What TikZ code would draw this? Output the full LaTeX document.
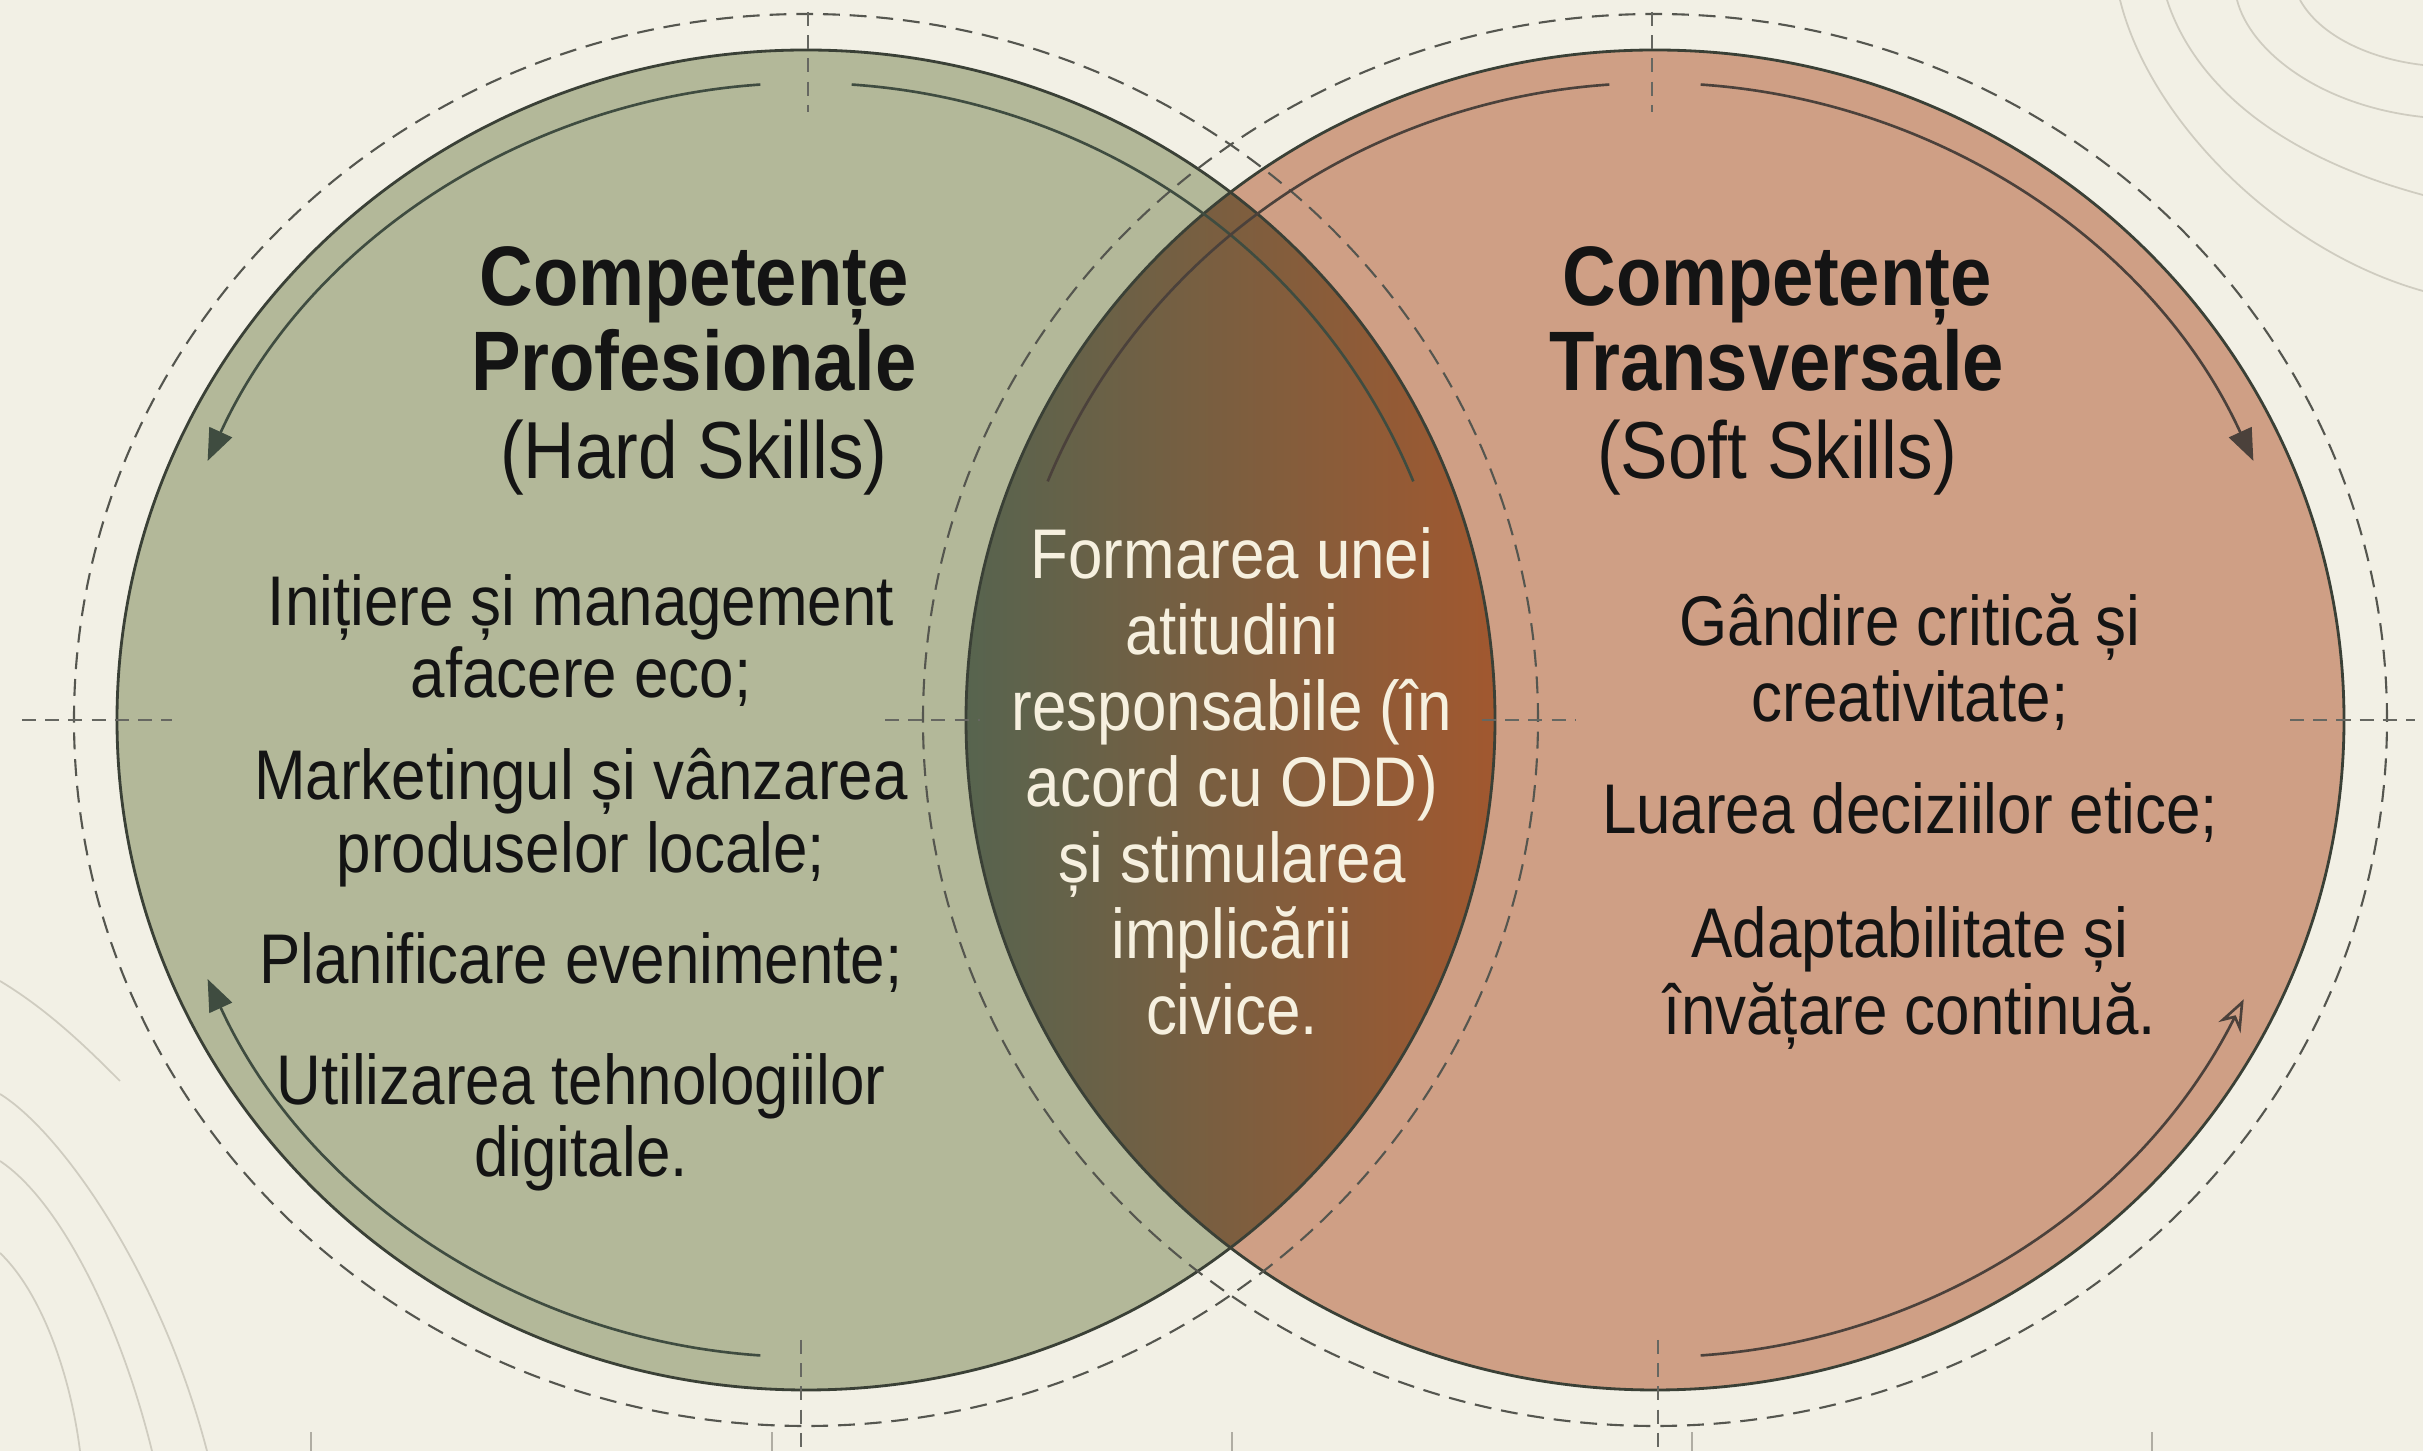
\documentclass[tikz,border=0pt]{standalone}
\usepackage{fontspec}
\setmainfont{Liberation Sans}[FakeStretch=0.88]
\usetikzlibrary{arrows.meta}
\definecolor{bg}{HTML}{F2F0E5}
\definecolor{sage}{HTML}{B3B899}
\definecolor{clay}{HTML}{CF9F85}
\definecolor{lensL}{HTML}{56644F}
\definecolor{lensM}{HTML}{7A5F43}
\definecolor{lensR}{HTML}{A2582F}
\definecolor{rim}{HTML}{3A4036}
\definecolor{ringc}{HTML}{55564F}
\definecolor{arcL}{HTML}{3F4C40}
\definecolor{arcR}{HTML}{4B413B}
\definecolor{topo}{HTML}{CFCCC0}
\definecolor{txt}{HTML}{141414}
\definecolor{lenstxt}{HTML}{F6F0DF}
\begin{document}
\begin{tikzpicture}[x=0.01cm,y=0.01cm,
  rimline/.style={draw=rim,line width=0.8pt},
  ringline/.style={draw=ringc,line width=0.6pt,dash pattern=on 4.8pt off 2.8pt},
  crossline/.style={draw=ringc!90,line width=0.6pt,dash pattern=on 4pt off 2.6pt},
  arcl/.style={draw=arcL,line width=0.75pt},
  arcr/.style={draw=arcR,line width=0.75pt},
  topoline/.style={draw=topo,line width=0.5pt},
  tick/.style={draw=topo!85!black,line width=0.5pt},
  ttl/.style={anchor=base,inner sep=0,text=txt,font=\fontsize{24}{24}\selectfont\bfseries},
  sub/.style={anchor=base,inner sep=0,text=txt,font=\fontsize{23}{24}\selectfont},
  item/.style={anchor=base,inner sep=0,text=txt,font=\fontsize{20}{21}\selectfont},
  ctr/.style={anchor=base,inner sep=0,text=lenstxt,font=\fontsize{20}{21}\selectfont}]
\useasboundingbox (0,0) rectangle (2423,1451);
\fill[bg] (0,0) rectangle (2423,1451);
% topographic decoration
\draw[topoline] (2120,1451) .. controls (2150,1330) and (2280,1200) .. (2423,1160);
\draw[topoline] (2167,1451) .. controls (2190,1380) and (2260,1300) .. (2423,1256);
\draw[topoline] (2237,1451) .. controls (2250,1400) and (2320,1345) .. (2423,1334);
\draw[topoline] (2300,1451) .. controls (2320,1415) and (2370,1392) .. (2423,1386);
\draw[topoline] (0,357) .. controls (60,320) and (160,180) .. (207,0);
\draw[topoline] (0,290) .. controls (60,250) and (120,130) .. (152,0);
\draw[topoline] (0,198) .. controls (40,160) and (70,80) .. (80,0);
\draw[topoline] (0,470) .. controls (50,440) and (90,400) .. (120,370);
% bottom ruler ticks
\foreach \tx in {311,772,1232,1692,2152} \draw[tick] (\tx,0) -- (\tx,19);
% centres
\coordinate (cL) at (806,731);
\coordinate (cR) at (1655,731);
% fills
\fill[sage] (cL) ellipse [x radius=689, y radius=670];
\fill[clay] (cR) ellipse [x radius=689, y radius=670];
\begin{scope}
  \clip (cL) ellipse [x radius=689, y radius=670];
  \clip (cR) ellipse [x radius=689, y radius=670];
  \shade[left color=lensL, middle color=lensM, right color=lensR] (960,0) rectangle (1500,1451);
\end{scope}
% outlines
\draw[rimline] (cL) ellipse [x radius=689, y radius=670];
\draw[rimline] (cR) ellipse [x radius=689, y radius=670];
% dashed rings
\draw[ringline] (cL) ellipse [x radius=732, y radius=706];
\draw[ringline] (cR) ellipse [x radius=732, y radius=706];
% crosshairs
\draw[crossline] (808,1439) -- (808,1339);
\draw[crossline] (22,731) -- (172,731);
\draw[crossline] (1482,731) -- (1576,731);
\draw[crossline] (801,111) -- (801,0);
\draw[crossline] (1652,1439) -- (1652,1339);
\draw[crossline] (885,731) -- (980,731);
\draw[crossline] (2290,731) -- (2415,731);
\draw[crossline] (1658,111) -- (1658,0);
% inner arrow arcs, left
\draw[arcl] ([shift={(86:655 and 637)}]cL) arc[start angle=86, end angle=22, x radius=655, y radius=637];
\draw[arcl,-{Triangle[length=9pt,width=7pt]}] ([shift={(94:655 and 637)}]cL) arc[start angle=94, end angle=156, x radius=655, y radius=637];
\draw[arcl,-{Triangle[length=9pt,width=7pt]}] ([shift={(266:655 and 637)}]cL) arc[start angle=266, end angle=204, x radius=655, y radius=637];
% inner arrow arcs, right
\draw[arcr] ([shift={(94:655 and 637)}]cR) arc[start angle=94, end angle=158, x radius=655, y radius=637];
\draw[arcr,-{Triangle[length=9pt,width=7pt]}] ([shift={(86:655 and 637)}]cR) arc[start angle=86, end angle=24, x radius=655, y radius=637];
\draw[arcr,-{Stealth[open,length=9pt,width=7pt]}] ([shift={(274:655 and 637)}]cR) arc[start angle=274, end angle=334, x radius=655, y radius=637];
% left titles
\node[ttl] (lt1) at (694,1145) {Competențe};
\node[ttl] (lt2) at (694,1060) {Profesionale};
\node[sub] (lt3) at (694,972) {(Hard Skills)};
% right titles
\node[ttl] (rt1) at (1777,1145) {Competențe};
\node[ttl] (rt2) at (1777,1060) {Transversale};
\node[sub] (rt3) at (1777,972) {(Soft Skills)};
% left items
\node[item] (l1a) at (581,825) {Inițiere și management};
\node[item] (l1b) at (581,753) {afacere eco;};
\node[item] (l2a) at (581,651) {Marketingul și vânzarea};
\node[item] (l2b) at (581,578) {produselor locale;};
\node[item] (l3a) at (581,467) {Planificare evenimente;};
\node[item] (l4a) at (581,346) {Utilizarea tehnologiilor};
\node[item] (l4b) at (581,274) {digitale.};
% right items
\node[item] (r1a) at (1910,805) {Gândire critică și};
\node[item] (r1b) at (1910,729) {creativitate;};
\node[item] (r2a) at (1910,617) {Luarea deciziilor etice;};
\node[item] (r3a) at (1910,493) {Adaptabilitate și};
\node[item] (r3b) at (1910,416) {învățare continuă.};
% centre text
\node[ctr] (c1) at (1232,872) {Formarea unei};
\node[ctr] (c2) at (1232,796) {atitudini};
\node[ctr] (c3) at (1232,720) {responsabile (în};
\node[ctr] (c4) at (1232,644) {acord cu ODD)};
\node[ctr] (c5) at (1232,568) {și stimularea};
\node[ctr] (c6) at (1232,492) {implicării};
\node[ctr] (c7) at (1232,416) {civice.};
\end{tikzpicture}
\end{document}
